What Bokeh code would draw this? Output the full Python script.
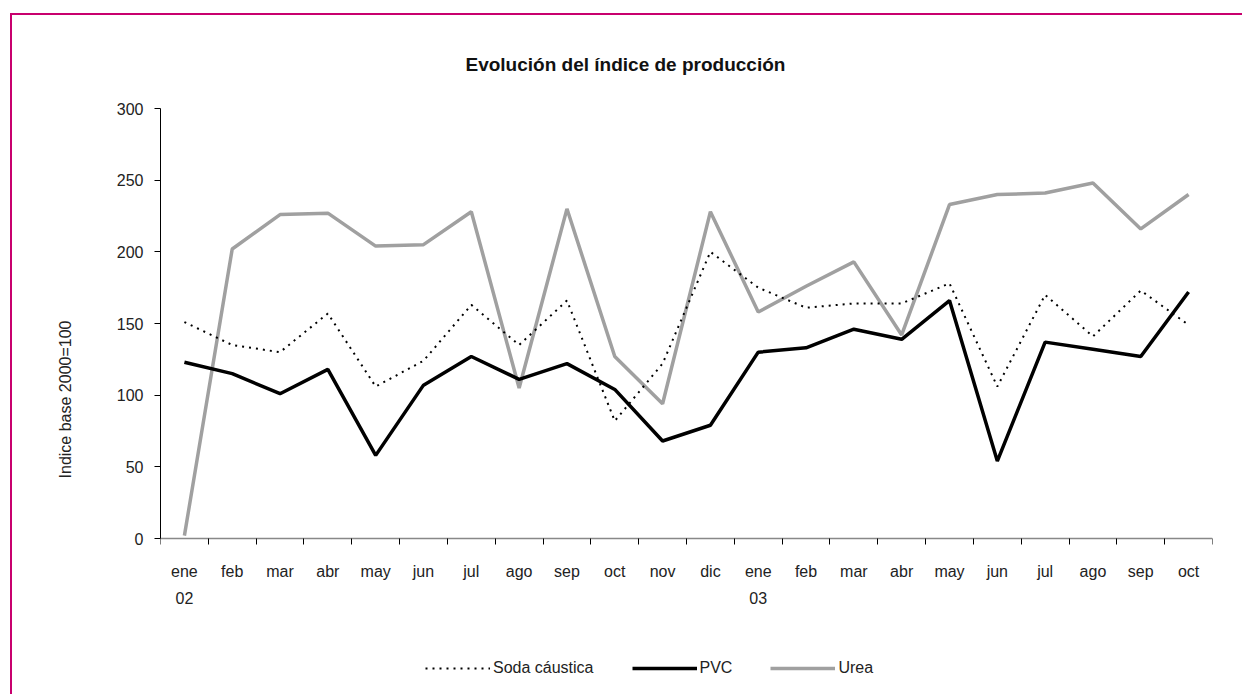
from bokeh.plotting import figure
from bokeh.models import FixedTicker, Legend, LegendItem, Range1d
from bokeh.embed import file_html
from bokeh.resources import INLINE

months = ["ene\n02", "feb", "mar", "abr", "may", "jun", "jul", "ago", "sep", "oct", "nov", "dic",
          "ene\n03", "feb", "mar", "abr", "may", "jun", "jul", "ago", "sep", "oct"]
soda = [151, 135, 130, 157, 106, 124, 163, 135, 166, 82, 122, 200,
        175, 161, 164, 164, 178, 106, 170, 141, 173, 149]
pvc = [123, 115, 101, 118, 58, 107, 127, 111, 122, 104, 68, 79,
       130, 133, 146, 139, 166, 54, 137, 132, 127, 172]
urea = [2, 202, 226, 227, 204, 205, 228, 105, 230, 127, 94, 228,
        158, 176, 193, 142, 233, 240, 241, 248, 216, 240]
y_ticks = [0, 50, 100, 150, 200, 250, 300]

FONT = "Liberation Sans"
n = len(months)
xs = [i + 0.5 for i in range(n)]

# frame extends below y=0 so the legend can sit inside it (axis fixed at y=0)
Y_MIN = -(152 * 300 / 430)

p = figure(width=1232, height=681, output_backend="svg", toolbar_location=None,
           x_range=Range1d(0, n), y_range=Range1d(Y_MIN, 300),
           min_border_left=148, min_border_right=32, min_border_top=93, min_border_bottom=6)
p.styles = {"border-top": "2px solid #c8006e", "border-left": "2px solid #c8006e",
            "margin-top": "13px", "margin-left": "10px"}
p.outline_line_color = None
p.grid.grid_line_color = None
p.background_fill_color = "white"
p.border_fill_color = "white"

p.title.text = "Evolución del índice de producción"
p.title.text_font = FONT
p.title.text_font_style = "bold"
p.title.text_font_size = "19px"
p.title.align = "left"
p.title.offset = 305
p.title.standoff = 68
p.title.text_color = "#111111"

# x axis, fixed at y = 0
xa = p.xaxis[0]
xa.fixed_location = 0
xa.ticker = FixedTicker(ticks=xs, minor_ticks=list(range(n + 1)))
xa.major_label_overrides = {x: m for x, m in zip(xs, months)}
xa.major_tick_line_color = None
xa.minor_tick_line_color = "black"
xa.minor_tick_out = 6
xa.minor_tick_in = 0
xa.axis_line_color = "#888888"
xa.axis_line_width = 1.5
xa.major_label_text_font = FONT
xa.major_label_text_font_size = "16px"
xa.major_label_text_color = "#222222"
xa.major_label_text_line_height = 1.6
xa.major_label_standoff = 18

ya = p.yaxis[0]
ya.bounds = (0, 300)
ya.ticker = FixedTicker(ticks=y_ticks)
ya.minor_tick_line_color = None
ya.major_tick_out = 6
ya.major_tick_in = 0
ya.axis_line_color = "black"
ya.major_label_text_font = FONT
ya.major_label_text_font_size = "16px"
ya.major_label_text_color = "#222222"
ya.major_label_standoff = 11
ya.axis_label = "Indice base 2000=100"
ya.axis_label_text_font = FONT
ya.axis_label_text_font_size = "16px"
ya.axis_label_text_font_style = "normal"
ya.axis_label_text_color = "#222222"
ya.axis_label_standoff = 40

r_urea = p.line(xs, urea, line_color="#a0a0a0", line_width=3.5)
r_pvc = p.line(xs, pvc, line_color="black", line_width=3.5)
r_soda = p.line(xs, soda, line_color="black", line_width=2, line_dash="2 5")

legend = Legend(items=[LegendItem(label="Soda cáustica", renderers=[r_soda]),
                       LegendItem(label="PVC", renderers=[r_pvc]),
                       LegendItem(label="Urea", renderers=[r_urea])],
                orientation="horizontal", location=(265, 12),
                glyph_width=65, label_standoff=3, spacing=38,
                label_text_font=FONT, label_text_font_size="16px", label_text_color="#222222",
                border_line_color=None, background_fill_alpha=0, margin=0, padding=0)
p.add_layout(legend)

open("out.html", "w").write(file_html(p, INLINE))
